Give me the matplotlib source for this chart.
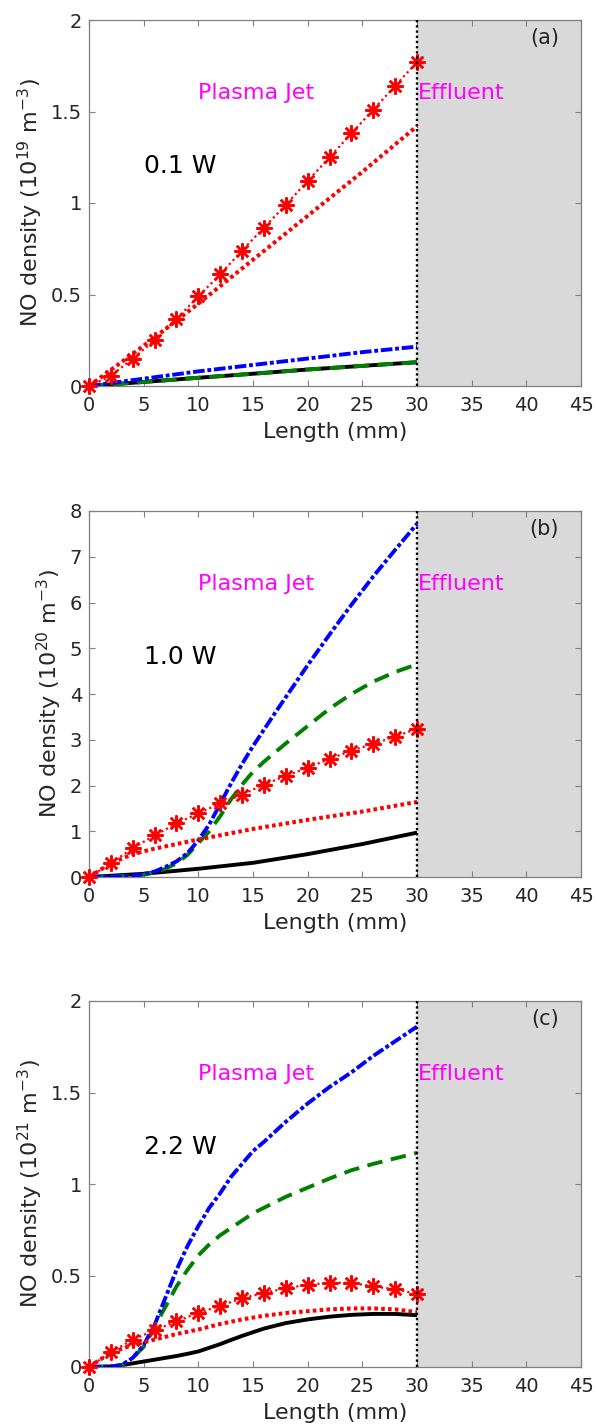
import matplotlib
matplotlib.use("Agg")
import matplotlib.pyplot as plt
import numpy as np

plt.rcParams['font.family'] = ['DejaVu Sans']
plt.rcParams['mathtext.fontset'] = 'dejavusans'

# ---------------- data ----------------
jet_end = 30.0
x_star = np.arange(0, 31, 2)

# (a) 0.1 W, units 1e19 m^-3
a_x_lin = [0, 5, 10, 15, 20, 25, 30]
a_black = [0, 0.022, 0.045, 0.067, 0.09, 0.11, 0.13]
a_green = [0, 0.022, 0.045, 0.067, 0.09, 0.11, 0.13]
a_blue = [0, 0.04, 0.08, 0.115, 0.15, 0.185, 0.215]
a_red = [0, 0.22, 0.45, 0.69, 0.93, 1.17, 1.42]
a_star = [0, 0.055, 0.15, 0.25, 0.366, 0.49, 0.61, 0.74, 0.865, 0.99,
          1.12, 1.25, 1.38, 1.51, 1.64, 1.77]

# (b) 1.0 W, units 1e20 m^-3
b_x_black = [0, 5, 10, 15, 20, 25, 30]
b_black = [0, 0.07, 0.18, 0.31, 0.5, 0.72, 0.97]
b_x_red = [0, 2, 4, 6, 8, 10, 15, 20, 25, 30]
b_red = [0, 0.3, 0.5, 0.62, 0.72, 0.82, 1.05, 1.25, 1.43, 1.64]
b_x_blue = [0, 2, 4, 5, 6, 7, 8, 9, 10, 11, 12, 13, 14, 15, 16, 17, 18,
            20, 22, 24, 26, 28, 30]
b_blue = [0, 0.01, 0.03, 0.06, 0.12, 0.22, 0.34, 0.52, 0.8, 1.15, 1.6,
          2.05, 2.47, 2.86, 3.22, 3.58, 3.93, 4.63, 5.3, 5.95, 6.57, 7.15, 7.72]
b_x_green = [0, 2, 4, 5, 6, 7, 8, 9, 10, 11, 12, 13, 14, 15, 16, 17, 18,
             20, 22, 24, 26, 28, 30]
b_green = [0, 0.01, 0.03, 0.05, 0.1, 0.18, 0.3, 0.48, 0.74, 1.0, 1.33,
           1.7, 2.02, 2.3, 2.52, 2.72, 2.92, 3.3, 3.68, 4.0, 4.27, 4.48, 4.65]
b_star = [0, 0.3, 0.63, 0.91, 1.17, 1.39, 1.61, 1.8, 2.02, 2.21,
          2.39, 2.58, 2.76, 2.91, 3.07, 3.24]

# (c) 2.2 W, units 1e21 m^-3
c_x = [0, 2, 3, 4, 5, 6, 7, 8, 9, 10, 11, 12, 13, 14, 15, 16, 18, 20, 22, 24,
       26, 28, 30]
c_blue = [0, 0.003, 0.01, 0.05, 0.12, 0.23, 0.38, 0.53, 0.66, 0.77, 0.87,
          0.95, 1.04, 1.11, 1.18, 1.23, 1.34, 1.44, 1.53, 1.61, 1.70, 1.78, 1.86]
c_green = [0, 0.003, 0.01, 0.05, 0.11, 0.22, 0.33, 0.44, 0.53, 0.61, 0.67,
           0.72, 0.76, 0.8, 0.84, 0.87, 0.93, 0.98, 1.03, 1.075, 1.11, 1.14, 1.17]
c_black = [0, 0.003, 0.01, 0.02, 0.03, 0.04, 0.05, 0.06, 0.072, 0.085, 0.105,
           0.125, 0.148, 0.17, 0.19, 0.21, 0.24, 0.26, 0.275, 0.285, 0.29, 0.29,
           0.283]
c_x_red = [0, 1, 2, 3, 4, 6, 8, 10, 12, 14, 16, 18, 20, 22, 24, 26, 28, 30]
c_red = [0, 0.04, 0.075, 0.1, 0.12, 0.15, 0.18, 0.205, 0.235, 0.26, 0.28,
         0.295, 0.305, 0.315, 0.32, 0.32, 0.315, 0.30]
c_star = [0, 0.08, 0.15, 0.2, 0.25, 0.295, 0.335, 0.375, 0.405, 0.43,
          0.45, 0.46, 0.46, 0.44, 0.425, 0.40]

panels = [
    dict(tag="(a)", power="0.1 W", exp="19", ymax=2, yticks=[0, 0.5, 1, 1.5, 2],
         yticklabels=["0", "0.5", "1", "1.5", "2"],
         black=(a_x_lin, a_black), green=(a_x_lin, a_green), blue=(a_x_lin, a_blue),
         red=(a_x_lin, a_red), star=a_star, bottom=1 - 386 / 1427),
    dict(tag="(b)", power="1.0 W", exp="20", ymax=8, yticks=list(range(0, 9)),
         yticklabels=[str(v) for v in range(0, 9)],
         black=(b_x_black, b_black), green=(b_x_green, b_green), blue=(b_x_blue, b_blue),
         red=(b_x_red, b_red), star=b_star, bottom=1 - 877 / 1427),
    dict(tag="(c)", power="2.2 W", exp="21", ymax=2, yticks=[0, 0.5, 1, 1.5, 2],
         yticklabels=["0", "0.5", "1", "1.5", "2"],
         black=(c_x, c_black), green=(c_x, c_green), blue=(c_x, c_blue),
         red=(c_x_red, c_red), star=c_star, bottom=1 - 1367 / 1427),
]

fig = plt.figure(figsize=(5.97, 14.27), dpi=100)
axis_gray = "#7f7f7f"
text_gray = "#262626"

for p in panels:
    ax = fig.add_axes([89 / 597, p["bottom"], 492 / 597, 366 / 1427])
    ymax = p["ymax"]

    # effluent region shading and boundary
    ax.axvspan(jet_end, 45, color="#d9d9d9", zorder=0, lw=0)
    ax.axvline(jet_end, color="black", lw=1.7, linestyle=(0, (1, 1.2)), zorder=6)

    ax.plot(*p["black"], color="black", lw=2.8, solid_capstyle="butt", zorder=2)
    ax.plot(*p["green"], color="#007f00", lw=2.8, linestyle=(0, (4.0, 2.2)), zorder=3)
    ax.plot(*p["blue"], color="#0000ff", lw=2.8, linestyle=(0, (3.0, 0.7, 1.0, 0.7)), zorder=3)
    ax.plot(*p["red"], color="#ff0000", lw=2.9, linestyle=(0, (0.9, 0.8)), zorder=4)
    ax.plot(x_star, p["star"], color="#ff0000", lw=1.6, linestyle=(0, (1, 1.4)),
            marker=(8, 2, 0), markersize=11.5, markeredgewidth=1.8,
            markeredgecolor="#ff0000", zorder=5, clip_on=False)

    ax.set_xlim(0, 45)
    ax.set_ylim(0, ymax)
    ax.set_xticks(range(0, 46, 5))
    ax.set_yticks(p["yticks"])
    ax.set_yticklabels(p["yticklabels"])
    ax.tick_params(direction="in", top=True, right=True, length=4, width=0.8,
                   colors=axis_gray, labelcolor=text_gray, labelsize=14)
    ax.tick_params(axis="x", pad=7)
    ax.tick_params(axis="y", pad=5)
    for s in ax.spines.values():
        s.set_color(axis_gray)
        s.set_linewidth(0.9)

    ax.set_xlabel("Length (mm)", fontsize=16, color=text_gray, labelpad=5)
    ax.set_ylabel(r"NO density (10$^{%s}$ m$^{-3}$)" % p["exp"], fontsize=16,
                  color=text_gray, labelpad=4)

    ax.text(10.0, 0.8 * ymax, "Plasma Jet", color="#ff00ff", fontsize=16,
            ha="left", va="center", zorder=7)
    ax.text(30.1, 0.8 * ymax, "Effluent", color="#ff00ff", fontsize=16,
            ha="left", va="center", zorder=7)
    ax.text(5.0, 0.6 * ymax, p["power"], color="black", fontsize=18,
            ha="left", va="center", zorder=7)
    ax.text(43.0, 0.95 * ymax, p["tag"], color=text_gray, fontsize=15,
            ha="right", va="center", zorder=7)

fig.savefig("out.png", dpi=100)
